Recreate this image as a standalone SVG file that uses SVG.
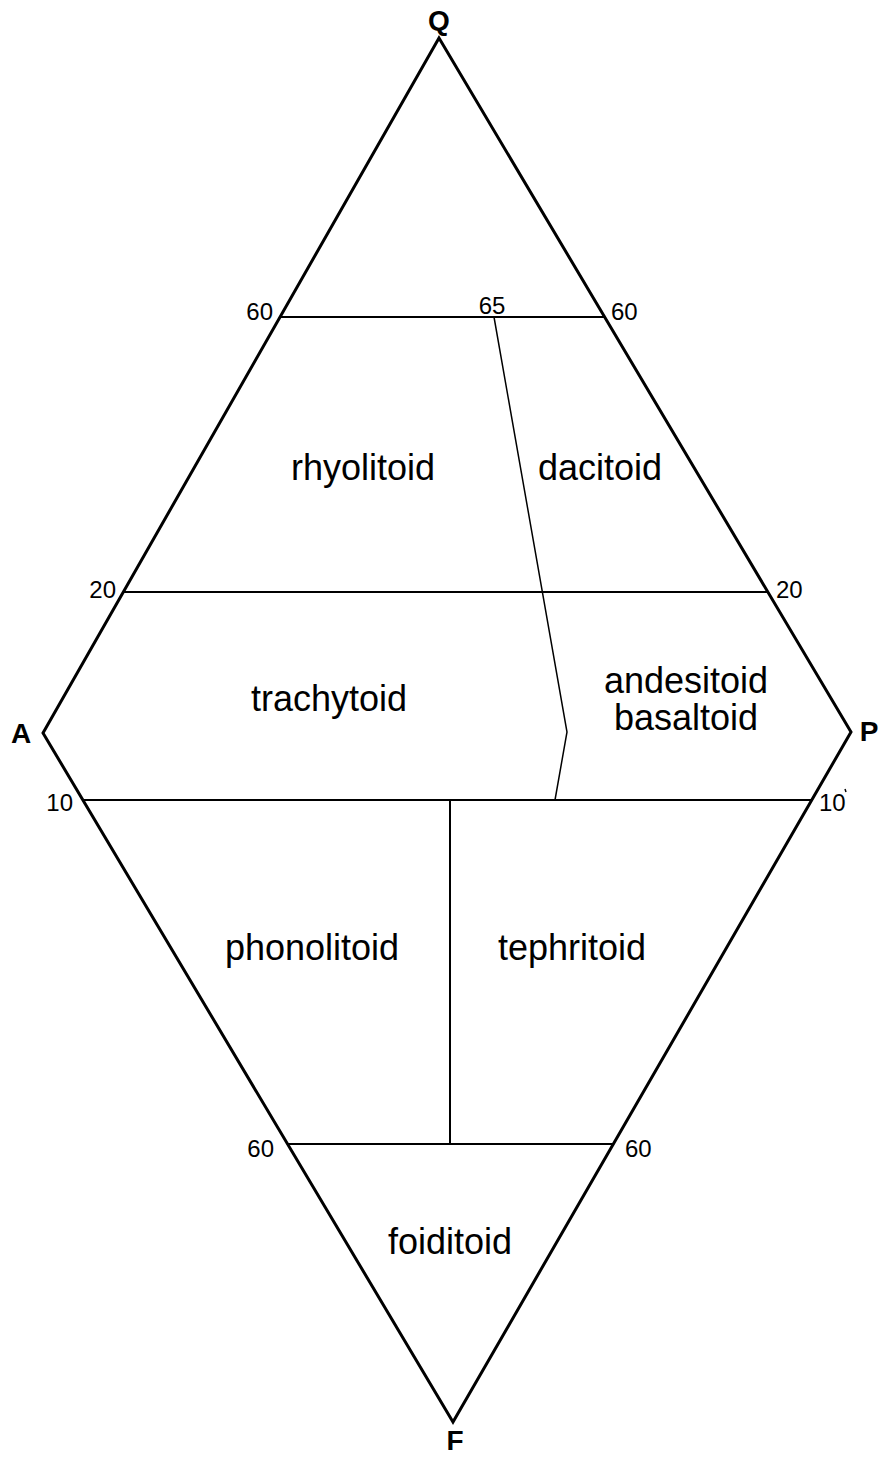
<svg xmlns="http://www.w3.org/2000/svg" width="883" height="1460" viewBox="0 0 883 1460">
<style>
.edge{fill:none;stroke:#000;stroke-width:3;stroke-linejoin:miter}
.ln{fill:none;stroke:#000;stroke-width:2}
.thin{fill:none;stroke:#000;stroke-width:1.5}
.v{font-family:"Liberation Sans",Arial,sans-serif;font-weight:bold;font-size:28px;fill:#000}
.n{font-family:"Liberation Sans",Arial,sans-serif;font-size:24px;fill:#000}
.r{font-family:"Liberation Sans",Arial,sans-serif;font-size:36px;fill:#000;text-anchor:middle}
</style>
<rect width="883" height="1460" fill="#fff"/>
<g id="connectors">
<polygon class="edge" points="439,38 851,732 453,1422 43,733"/>
<line class="ln" x1="280" y1="317" x2="605" y2="317"/>
<line class="ln" x1="124" y1="592" x2="768" y2="592"/>
<line class="ln" x1="83" y1="800" x2="812" y2="800"/>
<line class="ln" x1="288" y1="1144" x2="613" y2="1144"/>
<line class="ln" x1="450" y1="800" x2="450" y2="1144"/>
<polyline class="thin" points="494,317 567,732 555,800"/>
<line class="thin" x1="845" y1="789" x2="846" y2="792"/>
</g>
<g id="vertex-Q"><text class="v" x="439" y="30" text-anchor="middle">Q</text></g>
<g id="vertex-A"><text class="v" x="21" y="743" text-anchor="middle">A</text></g>
<g id="vertex-P"><text class="v" x="869" y="741" text-anchor="middle">P</text></g>
<g id="vertex-F"><text class="v" x="455" y="1450" text-anchor="middle">F</text></g>
<g id="ticks">
<text class="n" x="273" y="320" text-anchor="end">60</text>
<text class="n" x="492" y="314" text-anchor="middle">65</text>
<text class="n" x="611" y="320">60</text>
<text class="n" x="116" y="598" text-anchor="end">20</text>
<text class="n" x="776" y="598">20</text>
<text class="n" x="73" y="811" text-anchor="end">10</text>
<text class="n" x="819" y="811">10</text>
<text class="n" x="274" y="1157" text-anchor="end">60</text>
<text class="n" x="625" y="1157">60</text>
</g>
<g id="rhyolitoid"><text class="r" x="363" y="480">rhyolitoid</text></g>
<g id="dacitoid"><text class="r" x="600" y="480">dacitoid</text></g>
<g id="trachytoid"><text class="r" x="329" y="711">trachytoid</text></g>
<g id="andesitoid-basaltoid"><text class="r" x="686" y="693">andesitoid</text><text class="r" x="686" y="730">basaltoid</text></g>
<g id="phonolitoid"><text class="r" x="312" y="960">phonolitoid</text></g>
<g id="tephritoid"><text class="r" x="572" y="960">tephritoid</text></g>
<g id="foiditoid"><text class="r" x="450" y="1254">foiditoid</text></g>
</svg>
